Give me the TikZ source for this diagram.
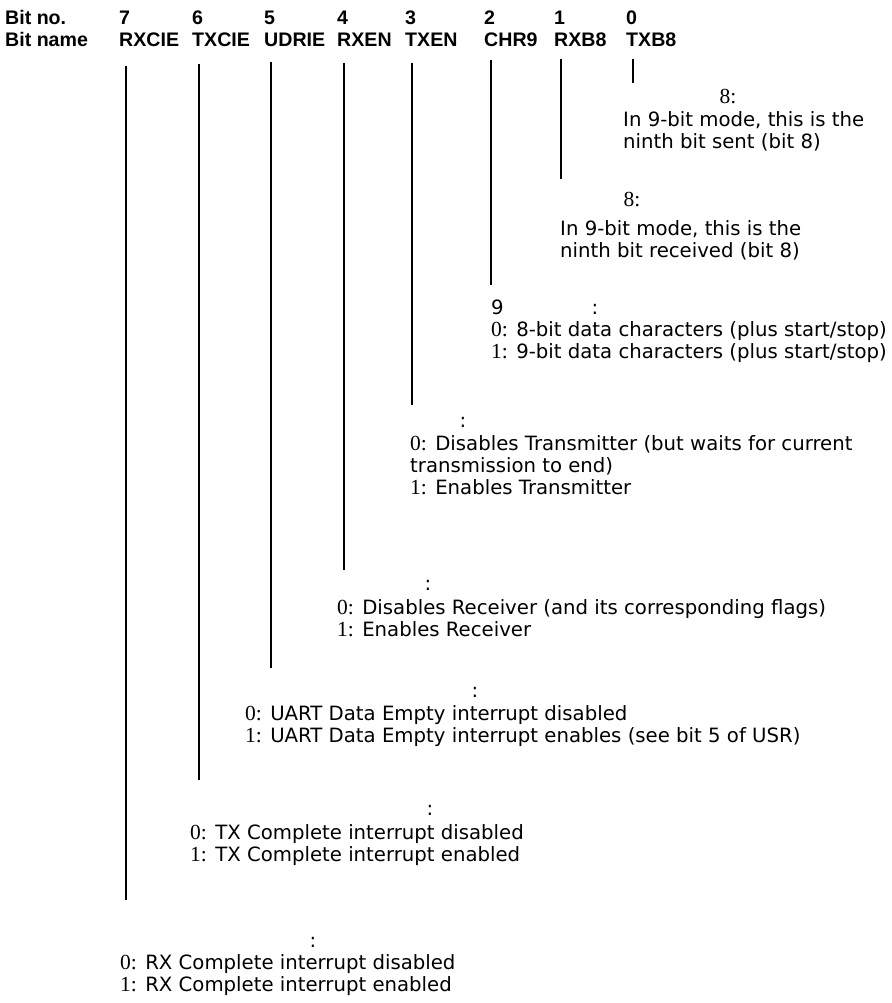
\documentclass[tikz,border=0pt]{standalone}
\usepackage{fontspec}
\setmainfont{DejaVu Sans}
\newfontfamily\hdfont{Liberation Sans}
\newfontfamily\digfont{Liberation Serif}
\newcommand\sd[1]{{\digfont\fontsize{21.5}{22}\selectfont #1}}
\begin{document}
\begin{tikzpicture}[x=1pt,y=-1pt,
  hd/.style={anchor=base west, inner sep=0pt, font=\hdfont\bfseries\fontsize{19.6}{20}\selectfont},
  tx/.style={anchor=base west, inner sep=0pt, font=\fontsize{19.7}{21}\selectfont},
  cl/.style={anchor=base, inner sep=0pt, font=\fontsize{19.7}{21}\selectfont},
  bitline/.style={line width=1.5pt}]
\useasboundingbox (0,0) rectangle (891,1003);
% header
\node[hd] (bitno) at (5,25) {Bit no.};
\node[hd] (bitname) at (5,47) {Bit name};
\foreach \n/\nm/\x in {7/RXCIE/119,6/TXCIE/192,5/UDRIE/264,4/RXEN/337,3/TXEN/405,2/CHR9/484,1/RXB8/554,0/TXB8/626}{
  \node[hd] (no\n) at (\x,25) {\n};
  \node[hd] (nm\n) at (\x,47) {\nm};
}
% line ends
\coordinate (t0) at (633,59);  \coordinate (b0) at (633,83);
\coordinate (t1) at (561,59);  \coordinate (b1) at (561,179);
\coordinate (t2) at (491,60);  \coordinate (b2) at (491,285);
\coordinate (t3) at (412,63);  \coordinate (b3) at (412,405);
\coordinate (t4) at (344,63);  \coordinate (b4) at (344,570);
\coordinate (t5) at (271,62);  \coordinate (b5) at (271,668);
\coordinate (t6) at (199,64);  \coordinate (b6) at (199,780);
\coordinate (t7) at (126,66);  \coordinate (b7) at (126,900);
\foreach \i in {0,...,7}{\draw[bitline] (t\i) -- (b\i);}
% bit 0
\node[cl] (h0) at (728,104) {\sd{8:}};
\node[tx] (a0) at (623,127) {In 9-bit mode, this is the};
\node[tx] (c0) at (623,149) {ninth bit sent (bit 8)};
% bit 1
\node[cl] (h1) at (632,207) {\sd{8:}};
\node[tx] (a1) at (560,235) {In 9-bit mode, this is the};
\node[tx] (c1) at (560,257) {ninth bit received (bit 8)};
% bit 2
\node[tx] (n2) at (491,314) {9};
\node[cl] (h2) at (595,314) {:};
\node[tx] (a2) at (491,336) {\sd{0:} 8-bit data characters (plus start/stop)};
\node[tx] (c2) at (491,358) {\sd{1:} 9-bit data characters (plus start/stop)};
% bit 3
\node[cl] (h3) at (463,427) {:};
\node[tx] (a3) at (410,450) {\sd{0:} Disables Transmitter (but waits for current};
\node[tx] (m3) at (410,472) {transmission to end)};
\node[tx] (c3) at (410,494) {\sd{1:} Enables Transmitter};
% bit 4
\node[cl] (h4) at (428,590) {:};
\node[tx] (a4) at (337,614) {\sd{0:} Disables Receiver (and its corresponding flags)};
\node[tx] (c4) at (337,636) {\sd{1:} Enables Receiver};
% bit 5
\node[cl] (h5) at (475,697) {:};
\node[tx] (a5) at (245,720) {\sd{0:} UART Data Empty interrupt disabled};
\node[tx] (c5) at (245,742) {\sd{1:} UART Data Empty interrupt enables (see bit 5 of USR)};
% bit 6
\node[cl] (h6) at (430,815) {:};
\node[tx] (a6) at (190,839) {\sd{0:} TX Complete interrupt disabled};
\node[tx] (c6) at (190,861) {\sd{1:} TX Complete interrupt enabled};
% bit 7
\node[cl] (h7) at (313,947) {:};
\node[tx] (a7) at (120,969) {\sd{0:} RX Complete interrupt disabled};
\node[tx] (c7) at (120,991) {\sd{1:} RX Complete interrupt enabled};
\end{tikzpicture}
\end{document}
